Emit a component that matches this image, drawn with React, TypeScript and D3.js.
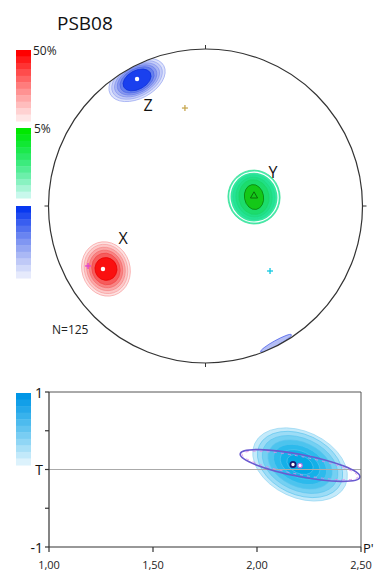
import React from 'react';
import * as d3 from 'd3';

// ---------- data ----------
const TITLE = 'PSB08';
const N_LABEL = 'N=125';
const netTickAngles = [0, 90, 180, 270];

// cluster contour levels (net units, outer -> inner): [rx, ry]
const zCenter = [-0.436, 0.803];
const zRot = -28;
const zLevels = [[0.193, 0.118], [0.174, 0.104], [0.155, 0.091], [0.136, 0.081], [0.117, 0.071], [0.096, 0.06]];
const zColors = ['#dde2fb', '#c4ccf7', '#a8b4f3', '#8898ef', '#6680ec', '#1a40ee'];
const zStrokes = ['#9aa8f2', '#9aa8f2', '#8494ee', '#6c80ea', '#5068e8', '#1030d8'];

const yCenter = [0.309, 0.057];
const yRot = -10;
const yLevels = [[0.166, 0.172], [0.153, 0.159], [0.134, 0.143], [0.115, 0.127], [0.096, 0.111], [0.061, 0.08]];
const yColors = ['#4eeab0', '#34e8a0', '#24e494', '#20e084', '#1cdc6c', '#14c818'];
const yStrokes = ['#30e090', '#ffffff', '#28dc90', '#22d880', '#1cd468', '#0a7a0a'];

const xCenter = [-0.634, -0.401];
const xRot = -18;
const xLevels = [[0.153, 0.175], [0.137, 0.159], [0.121, 0.14], [0.105, 0.121], [0.089, 0.102], [0.07, 0.073]];
const xColors = ['#fde2e2', '#fcc8c8', '#faa8a8', '#f88484', '#f65c5c', '#fa1010'];
const xStrokes = ['#f8a0a0', '#f8a0a0', '#f68888', '#f46c6c', '#f24848', '#e80000'];

const sliverCenter = [0.449, -0.874];
const sliverRot = -29;
const sliverSize = [0.112, 0.017];

const clusterLabels = ['Z', 'Y', 'X'];
const clusterLabelPos = [[-0.366, 0.643], [0.43, 0.215], [-0.525, -0.204]];
const zDot = [-0.436, 0.809];
const xDot = [-0.653, -0.401];
const yTri = [0.309, 0.064];
const crossPos = [[-0.131, 0.624], [0.411, -0.414], [-0.748, -0.382]];
const crossColors = ['#c8a850', '#10c8e0', '#e040d0'];

// P'-T plot
const pTicks = [1.0, 1.5, 2.0, 2.5];
const tTicks = [-1, -0.5, 0, 0.5, 1];
const tTickLabels: Record<string, string> = { '1': '1', '0': 'T', '-1': '-1' };
const cyanCenter = [2.207, 0.065];
const cyanRot = 25;
const cyanA = [0.24, 0.216, 0.192, 0.163, 0.135, 0.101, 0.067]; // P' units
const cyanB = [0.426, 0.387, 0.335, 0.284, 0.232, 0.168, 0.116]; // T units
const cyanColors = ['#c4eafa', '#9cdcf6', '#74d0f2', '#4cc4ee', '#2cbaec', '#14b0e8', '#04a8e4'];
const purpleCenter = [2.207, 0.052];
const purpleA = 0.293;
const purpleB = 0.142;
const purpleRot = 11;
const meanPt = [2.173, 0.065];
const meanPt2 = [2.207, 0.052];

// ---------- layout ----------
const W = 376, H = 574;
const CX = 205.5, CY = 206, R = 157;
const nx = d3.scaleLinear().domain([-1, 1]).range([CX - R, CX + R]);
const ny = d3.scaleLinear().domain([-1, 1]).range([CY + R, CY - R]);
const px = d3.scaleLinear().domain([1, 2.5]).range([49, 361]);
const py = d3.scaleLinear().domain([-1, 1]).range([547, 392]);

const FONT = '"Open Sans", "DejaVu Sans", sans-serif';

function bands(colors: string[], n: number) {
  const interp = d3.interpolateRgbBasis(colors);
  return d3.range(n).map(i => interp(i / (n - 1)));
}

function ColorBar({ x, y0, y1, colors }: { x: number; y0: number; y1: number; colors: string[] }) {
  const n = colors.length;
  const h = (y1 - y0) / n;
  return (
    <g>
      {colors.map((c, i) => (
        <rect key={i} x={x} y={y0 + i * h} width={15} height={h + 0.5} fill={c} />
      ))}
    </g>
  );
}

function Cluster({ center, rot, levels, colors, strokes }: any) {
  const cx = nx(center[0]);
  const cy = ny(center[1]);
  return (
    <g transform={`translate(${cx},${cy}) rotate(${rot})`}>
      {levels.map((l: number[], i: number) => (
        <ellipse
          key={i}
          rx={nx(l[0]) - nx(0)}
          ry={nx(l[1]) - nx(0)}
          fill={colors[i]}
          stroke={strokes[i]}
          strokeWidth={strokes[i] === '#ffffff' ? 1.2 : 0.7}
        />
      ))}
    </g>
  );
}

function Cross({ p, color }: { p: number[]; color: string }) {
  const x = nx(p[0]), y = ny(p[1]);
  return (
    <g stroke={color} strokeWidth={1.3}>
      <line x1={x - 3} x2={x + 3} y1={y} y2={y} />
      <line x1={x} x2={x} y1={y - 3} y2={y + 3} />
    </g>
  );
}

export default function App() {
  const redBar = bands(['#ff0000', '#ff8080', '#ffe6e6'], 11);
  const greenBar = bands(['#00e800', '#28e880', '#c8f8ec'], 11);
  const blueBar = bands(['#0838f0', '#8498f0', '#e6eafc'], 11);
  const cyanBar = bands(['#0096e6', '#5cc4f0', '#dcf2fc'], 11);

  const tri = d3.symbol(d3.symbolTriangle, 22)();

  return (
    <svg width={W} height={H} style={{ position: 'absolute', left: 0, top: 0, background: '#fff' }} fontFamily={FONT}>
      <defs>
        <clipPath id="net">
          <circle cx={CX} cy={CY} r={R} />
        </clipPath>
      </defs>

      <text x={57} y={30} fontSize={19} fill="#111">{TITLE}</text>

      {/* colour bars */}
      <ColorBar x={16} y0={50} y1={121} colors={redBar} />
      <ColorBar x={16} y0={128} y1={198} colors={greenBar} />
      <ColorBar x={16} y0={206} y1={278} colors={blueBar} />
      <text x={33} y={55} fontSize={12} fill="#222">50%</text>
      <text x={34} y={133} fontSize={12} fill="#222">5%</text>

      {/* stereonet contours */}
      <g clipPath="url(#net)">
        <Cluster center={zCenter} rot={zRot} levels={zLevels} colors={zColors} strokes={zStrokes} />
        <Cluster center={yCenter} rot={yRot} levels={yLevels} colors={yColors} strokes={yStrokes} />
        <Cluster center={xCenter} rot={xRot} levels={xLevels} colors={xColors} strokes={xStrokes} />
        <g transform={`translate(${nx(sliverCenter[0])},${ny(sliverCenter[1])}) rotate(${sliverRot})`}>
          <ellipse rx={nx(sliverSize[0]) - nx(0)} ry={nx(sliverSize[1]) - nx(0)} fill="#b4bef6" stroke="#5a6cec" strokeWidth={0.8} />
        </g>
      </g>

      {/* net circle and ticks */}
      <circle cx={CX} cy={CY} r={R} fill="none" stroke="#333" strokeWidth={1.2} />
      {netTickAngles.map(a => {
        const rad = (a * Math.PI) / 180;
        const dx = Math.sin(rad), dy = -Math.cos(rad);
        return (
          <line key={a} x1={CX + dx * R} y1={CY + dy * R} x2={CX + dx * (R + 4)} y2={CY + dy * (R + 4)} stroke="#333" strokeWidth={1} />
        );
      })}

      {/* markers */}
      <circle cx={nx(zDot[0])} cy={ny(zDot[1])} r={2.2} fill="#fff" />
      <circle cx={nx(xDot[0])} cy={ny(xDot[1])} r={2.2} fill="#fff" />
      <path d={tri || ''} transform={`translate(${nx(yTri[0])},${ny(yTri[1])})`} fill="none" stroke="#0a6a0a" strokeWidth={1} />
      {crossPos.map((p, i) => <Cross key={i} p={p} color={crossColors[i]} />)}

      {clusterLabels.map((l, i) => (
        <text key={l} x={nx(clusterLabelPos[i][0])} y={ny(clusterLabelPos[i][1])} fontSize={16} fill="#111" textAnchor="middle" dominantBaseline="central">{l}</text>
      ))}
      <text x={52} y={334} fontSize={12} fill="#222">{N_LABEL}</text>

      {/* P'-T plot */}
      <ColorBar x={16} y0={393} y1={465} colors={cyanBar} />
      <g transform={`translate(${px(cyanCenter[0])},${py(cyanCenter[1])}) rotate(${cyanRot})`}>
        {cyanA.map((a, i) => (
          <ellipse key={i} rx={px(1 + a) - px(1)} ry={py(0) - py(cyanB[i])} fill={cyanColors[i]} stroke={i === 0 ? '#8ed4f2' : '#5cc4ee'} strokeWidth={0.6} />
        ))}
      </g>
      <line x1={px(1)} x2={px(2.5)} y1={py(0)} y2={py(0)} stroke="#aaa" strokeWidth={1} />
      <g transform={`translate(${px(purpleCenter[0])},${py(purpleCenter[1])}) rotate(${purpleRot})`}>
        <ellipse rx={px(1 + purpleA) - px(1)} ry={py(0) - py(purpleB)} fill="none" stroke="#6a5ad0" strokeWidth={1.6} />
        <ellipse rx={px(1 + purpleA) - px(1) - 2} ry={py(0) - py(purpleB) - 2} fill="none" stroke="#e28ae6" strokeWidth={0.8} strokeDasharray="3,4" />
      </g>
      <circle cx={px(meanPt2[0])} cy={py(meanPt2[1])} r={2.2} fill="#fff" stroke="#b070e0" strokeWidth={1.2} />
      <circle cx={px(meanPt[0])} cy={py(meanPt[1])} r={2.6} fill="#fff" stroke="#1a1a70" strokeWidth={1.8} />

      {/* frame */}
      <line x1={px(1)} x2={px(2.5)} y1={py(1)} y2={py(1)} stroke="#555" strokeWidth={1} />
      <line x1={px(2.5)} x2={px(2.5)} y1={py(1)} y2={py(-1)} stroke="#555" strokeWidth={1} />
      <line x1={px(1)} x2={px(1)} y1={py(1)} y2={py(-1)} stroke="#333" strokeWidth={1.2} />
      <line x1={px(1)} x2={px(2.5)} y1={py(-1)} y2={py(-1)} stroke="#333" strokeWidth={1.2} />
      {tTicks.map(t => (
        <g key={t}>
          <line x1={px(1) - 4} x2={px(1)} y1={py(t)} y2={py(t)} stroke="#333" strokeWidth={1.2} />
          {tTickLabels[String(t)] && (
            <text x={px(1) - 6} y={py(t)} fontSize={14} fill="#111" textAnchor="end" dominantBaseline="central">{tTickLabels[String(t)]}</text>
          )}
        </g>
      ))}
      {pTicks.map(p => (
        <g key={p}>
          <line x1={px(p)} x2={px(p)} y1={py(-1)} y2={py(-1) + 5} stroke="#333" strokeWidth={1.2} />
          <text x={px(p)} y={569} fontSize={11} fill="#222" textAnchor="middle">{d3.format('.2f')(p).replace('.', ',')}</text>
        </g>
      ))}
      <text x={363} y={553} fontSize={13} fill="#111">P'</text>
    </svg>
  );
}
